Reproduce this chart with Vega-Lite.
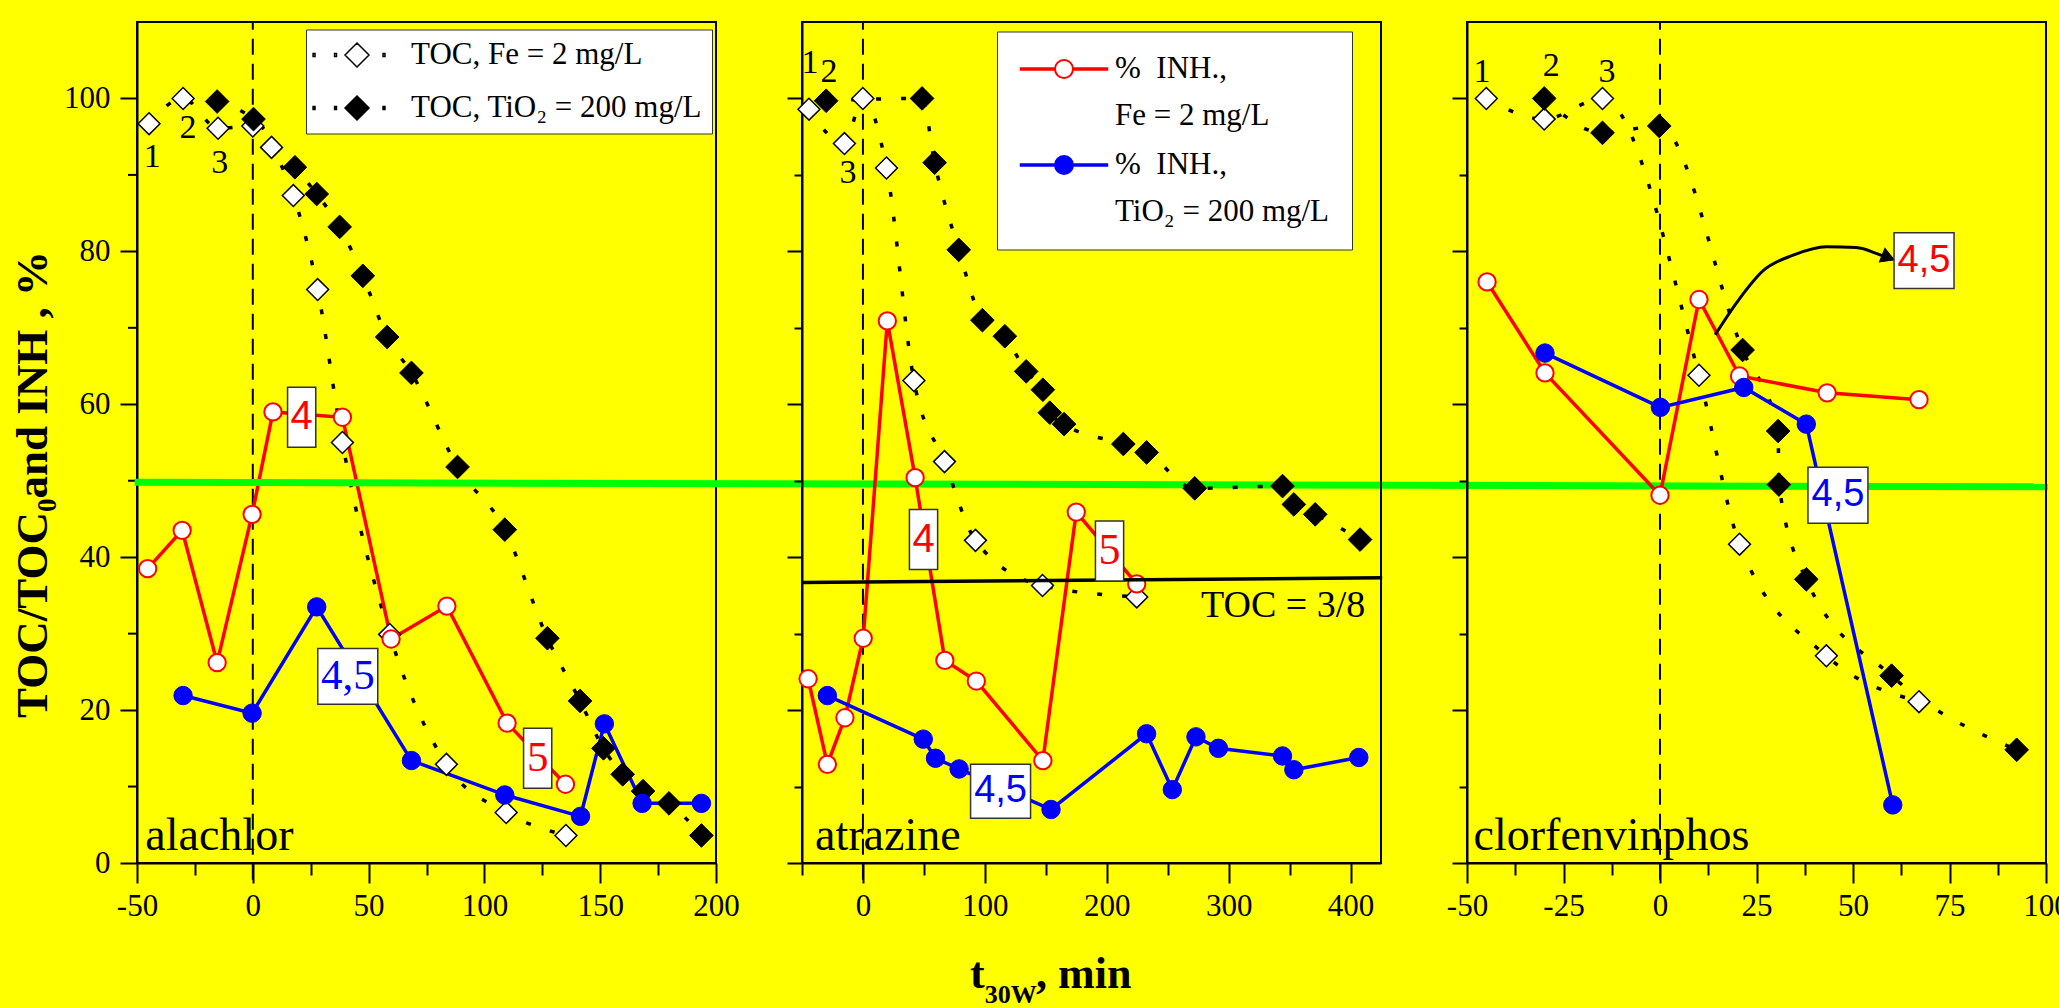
{
  "$schema": "https://vega.github.io/schema/vega-lite/v6.json",
  "background": "#ffff00",
  "padding": {"left": 9, "top": 20, "right": 0, "bottom": 0},
  "bounds": "flush",
  "spacing": 86,
  "config": {
    "view": {"stroke": "#000000", "strokeWidth": 2},
    "axis": {"domainColor": "#000000", "domainWidth": 2, "tickColor": "#000000", "tickWidth": 2, "labelColor": "#000000", "labelFont": "Liberation Sans Narrow", "labelFontSize": 31, "grid": false, "labelFlush": false, "labelOverlap": false, "labelBound": false, "titleColor": "#000000"},
    "legend": {"labelFont": "Liberation Serif", "labelFontSize": 31, "labelColor": "#000000", "labelLimit": 600},
    "style": {"guide-label": {"lineHeight": 47}}
  },
  "resolve": {"scale": {"x": "independent", "y": "independent", "fill": "independent", "stroke": "independent"}, "legend": {"fill": "independent", "stroke": "independent"}, "axis": {"x": "independent", "y": "independent"}},
  "datasets": {
    "pts": [
      {"panel":"alachlor","series":"TOC Fe","t":-44.8,"v":96.7},{"panel":"alachlor","series":"TOC Fe","t":-30.1,"v":100},{"panel":"alachlor","series":"TOC Fe","t":-15,"v":96.1},{"panel":"alachlor","series":"TOC Fe","t":0,"v":96.4},{"panel":"alachlor","series":"TOC Fe","t":8.1,"v":93.6},{"panel":"alachlor","series":"TOC Fe","t":17.5,"v":87.3},{"panel":"alachlor","series":"TOC Fe","t":28,"v":75.0},{"panel":"alachlor","series":"TOC Fe","t":38.7,"v":55.0},{"panel":"alachlor","series":"TOC Fe","t":59.1,"v":29.9},{"panel":"alachlor","series":"TOC Fe","t":83.6,"v":12.9},{"panel":"alachlor","series":"TOC Fe","t":109.4,"v":6.6},{"panel":"alachlor","series":"TOC Fe","t":135.2,"v":3.6},
      {"panel":"alachlor","series":"TOC TiO2","t":-15.4,"v":99.6},{"panel":"alachlor","series":"TOC TiO2","t":0.3,"v":97.3},{"panel":"alachlor","series":"TOC TiO2","t":18.2,"v":91.0},{"panel":"alachlor","series":"TOC TiO2","t":27.6,"v":87.5},{"panel":"alachlor","series":"TOC TiO2","t":37.5,"v":83.2},{"panel":"alachlor","series":"TOC TiO2","t":47.5,"v":76.8},{"panel":"alachlor","series":"TOC TiO2","t":58,"v":68.8},{"panel":"alachlor","series":"TOC TiO2","t":68.5,"v":64.1},{"panel":"alachlor","series":"TOC TiO2","t":88.4,"v":51.8},{"panel":"alachlor","series":"TOC TiO2","t":108.8,"v":43.6},{"panel":"alachlor","series":"TOC TiO2","t":127.2,"v":29.4},{"panel":"alachlor","series":"TOC TiO2","t":141.3,"v":21.2},{"panel":"alachlor","series":"TOC TiO2","t":151.4,"v":15.0},{"panel":"alachlor","series":"TOC TiO2","t":159.7,"v":11.6},{"panel":"alachlor","series":"TOC TiO2","t":168.5,"v":9.4},{"panel":"alachlor","series":"TOC TiO2","t":179.7,"v":7.8},{"panel":"alachlor","series":"TOC TiO2","t":193.7,"v":3.6},
      {"panel":"alachlor","series":"INH Fe","t":-45.4,"v":38.5},{"panel":"alachlor","series":"INH Fe","t":-30.5,"v":43.5},{"panel":"alachlor","series":"INH Fe","t":-15.4,"v":26.2},{"panel":"alachlor","series":"INH Fe","t":-0.3,"v":45.6},{"panel":"alachlor","series":"INH Fe","t":8.7,"v":59.0},{"panel":"alachlor","series":"INH Fe","t":38.7,"v":58.3},{"panel":"alachlor","series":"INH Fe","t":59.7,"v":29.3},{"panel":"alachlor","series":"INH Fe","t":83.8,"v":33.6},{"panel":"alachlor","series":"INH Fe","t":109.8,"v":18.3},{"panel":"alachlor","series":"INH Fe","t":135,"v":10.3},
      {"panel":"alachlor","series":"INH TiO2","t":-30.1,"v":21.9},{"panel":"alachlor","series":"INH TiO2","t":-0.3,"v":19.6},{"panel":"alachlor","series":"INH TiO2","t":27.6,"v":33.5},{"panel":"alachlor","series":"INH TiO2","t":68.5,"v":13.4},{"panel":"alachlor","series":"INH TiO2","t":108.8,"v":8.9},{"panel":"alachlor","series":"INH TiO2","t":141.5,"v":6.1},{"panel":"alachlor","series":"INH TiO2","t":151.8,"v":18.2},{"panel":"alachlor","series":"INH TiO2","t":168.1,"v":7.8},{"panel":"alachlor","series":"INH TiO2","t":193.7,"v":7.8},
      {"panel":"atrazine","series":"TOC Fe","t":-44.3,"v":98.6},{"panel":"atrazine","series":"TOC Fe","t":-15.2,"v":94.1},{"panel":"atrazine","series":"TOC Fe","t":-0.1,"v":100},{"panel":"atrazine","series":"TOC Fe","t":19.3,"v":90.9},{"panel":"atrazine","series":"TOC Fe","t":41.8,"v":63.1},{"panel":"atrazine","series":"TOC Fe","t":66.9,"v":52.5},{"panel":"atrazine","series":"TOC Fe","t":92.3,"v":42.2},{"panel":"atrazine","series":"TOC Fe","t":147.3,"v":36.3},{"panel":"atrazine","series":"TOC Fe","t":224.6,"v":34.8},
      {"panel":"atrazine","series":"TOC TiO2","t":-30.2,"v":99.7},{"panel":"atrazine","series":"TOC TiO2","t":48.5,"v":100},{"panel":"atrazine","series":"TOC TiO2","t":58.8,"v":91.6},{"panel":"atrazine","series":"TOC TiO2","t":78.6,"v":80.2},{"panel":"atrazine","series":"TOC TiO2","t":98,"v":71.0},{"panel":"atrazine","series":"TOC TiO2","t":116.4,"v":68.9},{"panel":"atrazine","series":"TOC TiO2","t":133.9,"v":64.3},{"panel":"atrazine","series":"TOC TiO2","t":147.6,"v":61.9},{"panel":"atrazine","series":"TOC TiO2","t":153.3,"v":58.9},{"panel":"atrazine","series":"TOC TiO2","t":165,"v":57.4},{"panel":"atrazine","series":"TOC TiO2","t":213.6,"v":54.8},{"panel":"atrazine","series":"TOC TiO2","t":232.7,"v":53.7},{"panel":"atrazine","series":"TOC TiO2","t":272.2,"v":49.0},{"panel":"atrazine","series":"TOC TiO2","t":344.2,"v":49.3},{"panel":"atrazine","series":"TOC TiO2","t":353.5,"v":46.9},{"panel":"atrazine","series":"TOC TiO2","t":371,"v":45.6},{"panel":"atrazine","series":"TOC TiO2","t":407.8,"v":42.3},
      {"panel":"atrazine","series":"INH Fe","t":-45,"v":24.1},{"panel":"atrazine","series":"INH Fe","t":-29.2,"v":12.9},{"panel":"atrazine","series":"INH Fe","t":-14.8,"v":19.0},{"panel":"atrazine","series":"INH Fe","t":0.2,"v":29.4},{"panel":"atrazine","series":"INH Fe","t":20,"v":70.9},{"panel":"atrazine","series":"INH Fe","t":42.8,"v":50.4},{"panel":"atrazine","series":"INH Fe","t":67.2,"v":26.5},{"panel":"atrazine","series":"INH Fe","t":93,"v":23.8},{"panel":"atrazine","series":"INH Fe","t":147.6,"v":13.4},{"panel":"atrazine","series":"INH Fe","t":175,"v":45.9},{"panel":"atrazine","series":"INH Fe","t":224.6,"v":36.5},
      {"panel":"atrazine","series":"INH TiO2","t":-29.2,"v":21.9},{"panel":"atrazine","series":"INH TiO2","t":49.5,"v":16.2},{"panel":"atrazine","series":"INH TiO2","t":59.5,"v":13.7},{"panel":"atrazine","series":"INH TiO2","t":78.9,"v":12.3},{"panel":"atrazine","series":"INH TiO2","t":154.3,"v":7.0},{"panel":"atrazine","series":"INH TiO2","t":232.7,"v":16.9},{"panel":"atrazine","series":"INH TiO2","t":253.8,"v":9.6},{"panel":"atrazine","series":"INH TiO2","t":273.2,"v":16.5},{"panel":"atrazine","series":"INH TiO2","t":291.6,"v":15.0},{"panel":"atrazine","series":"INH TiO2","t":344.2,"v":14.0},{"panel":"atrazine","series":"INH TiO2","t":353.5,"v":12.2},{"panel":"atrazine","series":"INH TiO2","t":406.8,"v":13.8},
      {"panel":"clorfenvinphos","series":"TOC Fe","t":-45,"v":100},{"panel":"clorfenvinphos","series":"TOC Fe","t":-30,"v":97.3},{"panel":"clorfenvinphos","series":"TOC Fe","t":-14.9,"v":100},{"panel":"clorfenvinphos","series":"TOC Fe","t":10.1,"v":63.8},{"panel":"clorfenvinphos","series":"TOC Fe","t":20.6,"v":41.7},{"panel":"clorfenvinphos","series":"TOC Fe","t":43.1,"v":27.1},{"panel":"clorfenvinphos","series":"TOC Fe","t":67.1,"v":21.1},
      {"panel":"clorfenvinphos","series":"TOC TiO2","t":-30,"v":100},{"panel":"clorfenvinphos","series":"TOC TiO2","t":-14.9,"v":95.5},{"panel":"clorfenvinphos","series":"TOC TiO2","t":-0.2,"v":96.4},{"panel":"clorfenvinphos","series":"TOC TiO2","t":21.4,"v":67.1},{"panel":"clorfenvinphos","series":"TOC TiO2","t":30.6,"v":56.5},{"panel":"clorfenvinphos","series":"TOC TiO2","t":30.8,"v":49.5},{"panel":"clorfenvinphos","series":"TOC TiO2","t":37.9,"v":37.1},{"panel":"clorfenvinphos","series":"TOC TiO2","t":60,"v":24.5},{"panel":"clorfenvinphos","series":"TOC TiO2","t":92.4,"v":14.8},
      {"panel":"clorfenvinphos","series":"INH Fe","t":-44.8,"v":76.0},{"panel":"clorfenvinphos","series":"INH Fe","t":-29.8,"v":64.1},{"panel":"clorfenvinphos","series":"INH Fe","t":0,"v":48.1},{"panel":"clorfenvinphos","series":"INH Fe","t":10.1,"v":73.7},{"panel":"clorfenvinphos","series":"INH Fe","t":20.6,"v":63.7},{"panel":"clorfenvinphos","series":"INH Fe","t":43.3,"v":61.5},{"panel":"clorfenvinphos","series":"INH Fe","t":67.1,"v":60.6},
      {"panel":"clorfenvinphos","series":"INH TiO2","t":-29.8,"v":66.7},{"panel":"clorfenvinphos","series":"INH TiO2","t":0.1,"v":59.6},{"panel":"clorfenvinphos","series":"INH TiO2","t":21.7,"v":62.2},{"panel":"clorfenvinphos","series":"INH TiO2","t":37.9,"v":57.4},{"panel":"clorfenvinphos","series":"INH TiO2","t":60.3,"v":7.6}
    ],
    "ann": [
      {"panel":"alachlor","kind":"num","text":"1","t":-43.4,"v":92.3},{"panel":"alachlor","kind":"num","text":"2","t":-28,"v":96.1},{"panel":"alachlor","kind":"num","text":"3","t":-14.3,"v":91.5},
      {"panel":"atrazine","kind":"num","text":"1","t":-43.4,"v":104.6},{"panel":"atrazine","kind":"num","text":"2","t":-27.9,"v":103.4},{"panel":"atrazine","kind":"num","text":"3","t":-12.3,"v":90.3},
      {"panel":"clorfenvinphos","kind":"num","text":"1","t":-46.1,"v":103.4},{"panel":"clorfenvinphos","kind":"num","text":"2","t":-28.2,"v":104.3},{"panel":"clorfenvinphos","kind":"num","text":"3","t":-13.7,"v":103.4},
      {"panel":"alachlor","kind":"box","text":"4","series":"INH Fe","t":21.1,"v":58.3},{"panel":"alachlor","kind":"box","text":"4,5","series":"INH TiO2","t":41,"v":24.4},{"panel":"alachlor","kind":"box","text":"5","series":"INH Fe","t":123,"v":13.7},
      {"panel":"atrazine","kind":"box","text":"4","series":"INH Fe","t":49.7,"v":42.3},{"panel":"atrazine","kind":"box","text":"5","series":"INH Fe","t":202.3,"v":40.8},{"panel":"atrazine","kind":"box","text":"4,5","series":"INH TiO2","t":112.9,"v":9.4},
      {"panel":"clorfenvinphos","kind":"box","text":"4,5","series":"INH Fe","t":68.4,"v":78.8},{"panel":"clorfenvinphos","kind":"box","text":"4,5","series":"INH TiO2","t":46.1,"v":48.1},
      {"panel":"alachlor","kind":"name","text":"alachlor","t":-46.4,"v":1.7},{"panel":"atrazine","kind":"name","text":"atrazine","t":-39.3,"v":1.7},{"panel":"clorfenvinphos","kind":"name","text":"clorfenvinphos","t":-48.3,"v":1.7},
      {"panel":"atrazine","kind":"note","text":"TOC = 3/8","t":277.3,"v":32.2},
      {"panel":"atrazine","kind":"xt","text":"t","t":87.8,"v":-16.4},{"panel":"atrazine","kind":"xsub","text":"30W","t":99.9,"v":-18.3},{"panel":"atrazine","kind":"xt","text":", min","t":142,"v":-16.4},
      {"panel":"clorfenvinphos","kind":"head","text":"","t":59.1,"v":79.2}
    ],
    "refl": [
      {"panel":"alachlor","kind":"zero","t":0,"v":-2.2,"t2":0,"v2":110},{"panel":"atrazine","kind":"zero","t":0,"v":-2.2,"t2":0,"v2":110},{"panel":"clorfenvinphos","kind":"zero","t":0,"v":-2.2,"t2":0,"v2":110},
      {"panel":"alachlor","kind":"green","t":-51,"v":49.8,"t2":775,"v2":49.2},
      {"panel":"atrazine","kind":"black","t":-50,"v":36.7,"t2":426,"v2":37.3}
    ],
    "minor": [
      {"t":-50,"v":10},{"t":-50,"v":30},{"t":-50,"v":50},{"t":-50,"v":70},{"t":-50,"v":90}
    ],
    "arrow": [
      {"t":14.3,"v":69.1},{"t":20.3,"v":73.6},{"t":26.8,"v":77.5},{"t":34.5,"v":79.5},{"t":43.1,"v":80.6},{"t":50.8,"v":80.5},{"t":56.2,"v":79.7},{"t":59.5,"v":79.0}
    ]
  },
  "hconcat": [
    {
      "width": 579, "height": 841,
      "encoding": {
        "x": {"field": "t", "type": "quantitative", "scale": {"domain": [-50, 200], "nice": false, "zero": false},
          "axis": {"values": [-50,-25,0,25,50,75,100,125,150,175,200], "labelExpr": "datum.value % 50 == 0 ? '' + datum.value : ''", "tickSize": {"condition": {"test": "datum.value % 50 == 0", "value": 20}, "value": 12}, "labelPadding": 8, "title": null}},
        "y": {"field": "v", "type": "quantitative", "scale": {"domain": [0, 110], "nice": false, "zero": false},
          "axis": {"values": [0,20,40,60,80,100], "labelExpr": "'' + datum.value", "tickSize": 17, "labelPadding": 10,
            "title": "TOC/TOC\u2080and INH , %", "titleFont": "Liberation Serif", "titleFontSize": 45, "titleFontWeight": "bold", "titleAngle": 270, "titleX": -91, "titleY": 462, "titleAlign": "center", "titleBaseline": "alphabetic"}}
      },
      "layer": [
        {"data": {"name": "minor"}, "mark": {"type": "tick", "orient": "horizontal", "size": 9, "thickness": 2, "color": "#000000", "xOffset": -4.5, "opacity": 1}},
        {"data": {"name": "refl"}, "transform": [{"filter": "datum.panel == 'alachlor' && datum.kind == 'zero'"}], "mark": {"type": "rule", "color": "#000000", "strokeWidth": 2, "strokeDash": [16, 9]}, "encoding": {"x2": {"field": "t2"}, "y2": {"field": "v2"}}},
        {"data": {"name": "pts"}, "transform": [{"filter": "datum.panel == 'alachlor' && datum.series == 'TOC Fe'"}], "mark": {"type": "line", "color": "#000000", "strokeWidth": 3.5, "strokeDash": [5, 20], "interpolate": "monotone"}, "encoding": {}},
        {"data": {"name": "pts"}, "transform": [{"filter": "datum.panel == 'alachlor' && datum.series == 'TOC TiO2'"}], "mark": {"type": "line", "color": "#000000", "strokeWidth": 3.5, "strokeDash": [5, 20], "interpolate": "monotone"}, "encoding": {}},
        {"data": {"name": "pts"}, "transform": [{"filter": "datum.panel == 'alachlor' && datum.series == 'INH Fe'"}], "mark": {"type": "line", "color": "#ff0000", "strokeWidth": 3.5}, "encoding": {}},
        {"data": {"name": "pts"}, "transform": [{"filter": "datum.panel == 'alachlor' && datum.series == 'INH TiO2'"}], "mark": {"type": "line", "color": "#0000ff", "strokeWidth": 3.5}, "encoding": {}},
        {"data": {"name": "pts"}, "transform": [{"filter": "datum.panel == 'alachlor' && datum.series == 'TOC Fe'"}], "mark": {"type": "point", "shape": "diamond", "filled": true, "stroke": "#000000", "strokeWidth": 1.5, "size": 480, "opacity": 1},
          "encoding": {"fill": {"field": "series", "type": "nominal", "scale": {"domain": ["TOC Fe", "TOC TiO2"], "range": ["#ffffff", "#000000"]},
            "legend": {"title": null, "orient": "none", "legendX": 169, "legendY": 7.5, "direction": "vertical", "padding": 10, "fillColor": "#ffffff", "strokeColor": "#333333", "symbolType": "M0,-1L1,0L0,1L-1,0Z M-3.66,-0.12h0.16v0.24h-0.16Z M-1.87,-0.12h0.16v0.24h-0.16Z M2.17,-0.12h0.16v0.24h-0.16Z", "symbolSize": 576, "symbolStrokeColor": "#000000", "symbolStrokeWidth": 1.5, "symbolOffset": 25.5, "labelOffset": 38.5, "rowPadding": 21, "labelBaseline": "middle",
              "labelExpr": "datum.value == 'TOC Fe' ? 'TOC, Fe = 2 mg/L' : 'TOC, TiO\u2082 = 200 mg/L'"}}}},
        {"data": {"name": "pts"}, "transform": [{"filter": "datum.panel == 'alachlor' && datum.series == 'TOC TiO2'"}], "mark": {"type": "point", "shape": "diamond", "filled": true, "stroke": "#000000", "strokeWidth": 1, "size": 560, "opacity": 1},
          "encoding": {"fill": {"field": "series", "type": "nominal", "scale": {"domain": ["TOC Fe", "TOC TiO2"], "range": ["#ffffff", "#000000"]},
            "legend": {"title": null, "orient": "none", "legendX": 169, "legendY": 7.5, "direction": "vertical", "padding": 10, "fillColor": "#ffffff", "strokeColor": "#333333", "symbolType": "M0,-1L1,0L0,1L-1,0Z M-3.66,-0.12h0.16v0.24h-0.16Z M-1.87,-0.12h0.16v0.24h-0.16Z M2.17,-0.12h0.16v0.24h-0.16Z", "symbolSize": 576, "symbolStrokeColor": "#000000", "symbolStrokeWidth": 1.5, "symbolOffset": 25.5, "labelOffset": 38.5, "rowPadding": 21, "labelBaseline": "middle",
              "labelExpr": "datum.value == 'TOC Fe' ? 'TOC, Fe = 2 mg/L' : 'TOC, TiO\u2082 = 200 mg/L'"}}}},
        {"data": {"name": "pts"}, "transform": [{"filter": "datum.panel == 'alachlor' && datum.series == 'INH Fe'"}], "mark": {"type": "point", "shape": "circle", "filled": true, "fill": "#ffffff", "stroke": "#ff0000", "strokeWidth": 2, "size": 300, "opacity": 1}},
        {"data": {"name": "pts"}, "transform": [{"filter": "datum.panel == 'alachlor' && datum.series == 'INH TiO2'"}], "mark": {"type": "point", "shape": "circle", "filled": true, "fill": "#0000ff", "stroke": "#0000ff", "strokeWidth": 1, "size": 340, "opacity": 1}},
        {"data": {"name": "refl"}, "transform": [{"filter": "datum.panel == 'alachlor' && datum.kind == 'green'"}], "mark": {"type": "rule", "color": "#00ff00", "strokeWidth": 7}, "encoding": {"x2": {"field": "t2"}, "y2": {"field": "v2"}}},
        {"data": {"name": "ann"}, "transform": [{"filter": "datum.panel == 'alachlor' && datum.kind == 'box' && length(datum.text) == 1"}], "mark": {"type": "point", "shape": "M-0.47,-1H0.47V1H-0.47Z", "filled": true, "fill": "#ffffff", "stroke": "#333333", "strokeWidth": 1.5, "size": 3600, "opacity": 1}},
        {"data": {"name": "ann"}, "transform": [{"filter": "datum.panel == 'alachlor' && datum.kind == 'box' && length(datum.text) > 1"}], "mark": {"type": "point", "shape": "M-1,-0.93H1V0.93H-1Z", "filled": true, "fill": "#ffffff", "stroke": "#333333", "strokeWidth": 1.5, "size": 3600, "opacity": 1}},
        {"data": {"name": "ann"}, "transform": [{"filter": "datum.panel == 'alachlor' && datum.kind == 'box' && datum.text == '4'"}], "mark": {"type": "text", "font": "Liberation Sans", "fontSize": 40, "align": "center", "baseline": "middle"}, "encoding": {"text": {"field": "text"}, "color": {"condition": {"test": "datum.series == 'INH Fe'", "value": "#ff0000"}, "value": "#0000ff"}}},
        {"data": {"name": "ann"}, "transform": [{"filter": "datum.panel == 'alachlor' && datum.kind == 'box' && datum.text != '4'"}], "mark": {"type": "text", "font": "Liberation Serif", "fontSize": 43, "align": "center", "baseline": "middle"}, "encoding": {"text": {"field": "text"}, "color": {"condition": {"test": "datum.series == 'INH Fe'", "value": "#ff0000"}, "value": "#0000ff"}}},
        {"data": {"name": "ann"}, "transform": [{"filter": "datum.panel == 'alachlor' && datum.kind == 'num'"}], "mark": {"type": "text", "font": "Liberation Serif", "fontSize": 34, "align": "center", "baseline": "middle", "color": "#000000"}, "encoding": {"text": {"field": "text"}}},
        {"data": {"name": "ann"}, "transform": [{"filter": "datum.panel == 'alachlor' && datum.kind == 'name'"}], "mark": {"type": "text", "font": "Liberation Serif", "fontSize": 46, "align": "left", "baseline": "alphabetic", "color": "#000000"}, "encoding": {"text": {"field": "text"}}}
      ]
    },
    {
      "width": 579, "height": 841,
      "encoding": {
        "x": {"field": "t", "type": "quantitative", "scale": {"domain": [-50, 425], "nice": false, "zero": false},
          "axis": {"values": [-50,0,50,100,150,200,250,300,350,400], "labelExpr": "datum.value % 100 == 0 ? '' + datum.value : ''", "tickSize": {"condition": {"test": "datum.value % 100 == 0", "value": 20}, "value": 12}, "labelPadding": 8, "title": null}},
        "y": {"field": "v", "type": "quantitative", "scale": {"domain": [0, 110], "nice": false, "zero": false},
          "axis": {"values": [0,10,20,30,40,50,60,70,80,90,100], "labels": false, "tickSize": {"condition": {"test": "datum.value % 20 == 0", "value": 15}, "value": 8}, "title": null}}
      },
      "layer": [
        {"data": {"name": "refl"}, "transform": [{"filter": "datum.panel == 'atrazine' && datum.kind == 'zero'"}], "mark": {"type": "rule", "color": "#000000", "strokeWidth": 2, "strokeDash": [16, 9]}, "encoding": {"x2": {"field": "t2"}, "y2": {"field": "v2"}}},
        {"data": {"name": "pts"}, "transform": [{"filter": "datum.panel == 'atrazine' && datum.series == 'TOC Fe'"}], "mark": {"type": "line", "color": "#000000", "strokeWidth": 3.5, "strokeDash": [5, 20], "interpolate": "monotone"}, "encoding": {}},
        {"data": {"name": "pts"}, "transform": [{"filter": "datum.panel == 'atrazine' && datum.series == 'TOC TiO2'"}], "mark": {"type": "line", "color": "#000000", "strokeWidth": 3.5, "strokeDash": [5, 20], "interpolate": "monotone"}, "encoding": {}},
        {"data": {"name": "pts"}, "transform": [{"filter": "datum.panel == 'atrazine' && datum.series == 'INH Fe'"}], "mark": {"type": "line", "color": "#ff0000", "strokeWidth": 3.5}, "encoding": {}},
        {"data": {"name": "pts"}, "transform": [{"filter": "datum.panel == 'atrazine' && datum.series == 'INH TiO2'"}], "mark": {"type": "line", "color": "#0000ff", "strokeWidth": 3.5}, "encoding": {}},
        {"data": {"name": "pts"}, "transform": [{"filter": "datum.panel == 'atrazine' && datum.series == 'TOC Fe'"}], "mark": {"type": "point", "shape": "diamond", "filled": true, "fill": "#ffffff", "stroke": "#000000", "strokeWidth": 1.5, "size": 480, "opacity": 1}},
        {"data": {"name": "pts"}, "transform": [{"filter": "datum.panel == 'atrazine' && datum.series == 'TOC TiO2'"}], "mark": {"type": "point", "shape": "diamond", "filled": true, "fill": "#000000", "stroke": "#000000", "strokeWidth": 1, "size": 560, "opacity": 1}},
        {"data": {"name": "pts"}, "transform": [{"filter": "datum.panel == 'atrazine' && datum.series == 'INH Fe'"}], "mark": {"type": "point", "shape": "circle", "filled": true, "strokeWidth": 2, "size": 300, "opacity": 1},
          "encoding": {
            "fill": {"field": "series", "type": "nominal", "scale": {"domain": ["INH Fe", "INH TiO2"], "range": ["#ffffff", "#0000ff"]},
              "legend": {"title": null, "orient": "none", "legendX": 195, "legendY": 9.5, "direction": "vertical", "padding": 22, "fillColor": "#ffffff", "strokeColor": "#333333", "symbolType": "M1,0A1,1,0,1,1,-1,0A1,1,0,1,1,1,0Z M-4.8,-0.08H-1V0.08H-4.8Z M1,-0.08H4.8V0.08H1Z", "symbolSize": 324, "symbolStrokeWidth": 2, "symbolOffset": 29.5, "labelOffset": 35.5, "rowPadding": 17, "labelBaseline": "middle",
                "labelExpr": "datum.value == 'INH Fe' ? ['%\u00a0 INH.,', '\u00a0Fe = 2 mg/L'] : ['%\u00a0 INH.,', '\u00a0TiO\u2082 = 200 mg/L']"}},
            "stroke": {"field": "series", "type": "nominal", "scale": {"domain": ["INH Fe", "INH TiO2"], "range": ["#ff0000", "#0000ff"]},
              "legend": {"title": null, "orient": "none", "legendX": 195, "legendY": 9.5, "direction": "vertical", "padding": 22, "fillColor": "#ffffff", "strokeColor": "#333333", "symbolType": "M1,0A1,1,0,1,1,-1,0A1,1,0,1,1,1,0Z M-4.8,-0.08H-1V0.08H-4.8Z M1,-0.08H4.8V0.08H1Z", "symbolSize": 324, "symbolStrokeWidth": 2, "symbolOffset": 29.5, "labelOffset": 35.5, "rowPadding": 17, "labelBaseline": "middle",
                "labelExpr": "datum.value == 'INH Fe' ? ['%\u00a0 INH.,', '\u00a0Fe = 2 mg/L'] : ['%\u00a0 INH.,', '\u00a0TiO\u2082 = 200 mg/L']"}}}},
        {"data": {"name": "pts"}, "transform": [{"filter": "datum.panel == 'atrazine' && datum.series == 'INH TiO2'"}], "mark": {"type": "point", "shape": "circle", "filled": true, "strokeWidth": 1, "size": 340, "opacity": 1},
          "encoding": {
            "fill": {"field": "series", "type": "nominal", "scale": {"domain": ["INH Fe", "INH TiO2"], "range": ["#ffffff", "#0000ff"]},
              "legend": {"title": null, "orient": "none", "legendX": 195, "legendY": 9.5, "direction": "vertical", "padding": 22, "fillColor": "#ffffff", "strokeColor": "#333333", "symbolType": "M1,0A1,1,0,1,1,-1,0A1,1,0,1,1,1,0Z M-4.8,-0.08H-1V0.08H-4.8Z M1,-0.08H4.8V0.08H1Z", "symbolSize": 324, "symbolStrokeWidth": 2, "symbolOffset": 29.5, "labelOffset": 35.5, "rowPadding": 17, "labelBaseline": "middle",
                "labelExpr": "datum.value == 'INH Fe' ? ['%\u00a0 INH.,', '\u00a0Fe = 2 mg/L'] : ['%\u00a0 INH.,', '\u00a0TiO\u2082 = 200 mg/L']"}},
            "stroke": {"field": "series", "type": "nominal", "scale": {"domain": ["INH Fe", "INH TiO2"], "range": ["#ff0000", "#0000ff"]},
              "legend": {"title": null, "orient": "none", "legendX": 195, "legendY": 9.5, "direction": "vertical", "padding": 22, "fillColor": "#ffffff", "strokeColor": "#333333", "symbolType": "M1,0A1,1,0,1,1,-1,0A1,1,0,1,1,1,0Z M-4.8,-0.08H-1V0.08H-4.8Z M1,-0.08H4.8V0.08H1Z", "symbolSize": 324, "symbolStrokeWidth": 2, "symbolOffset": 29.5, "labelOffset": 35.5, "rowPadding": 17, "labelBaseline": "middle",
                "labelExpr": "datum.value == 'INH Fe' ? ['%\u00a0 INH.,', '\u00a0Fe = 2 mg/L'] : ['%\u00a0 INH.,', '\u00a0TiO\u2082 = 200 mg/L']"}}}},
        {"data": {"name": "refl"}, "transform": [{"filter": "datum.panel == 'atrazine' && datum.kind == 'black'"}], "mark": {"type": "rule", "color": "#000000", "strokeWidth": 3.5}, "encoding": {"x2": {"field": "t2"}, "y2": {"field": "v2"}}},
        {"data": {"name": "ann"}, "transform": [{"filter": "datum.panel == 'atrazine' && datum.kind == 'box' && length(datum.text) == 1"}], "mark": {"type": "point", "shape": "M-0.47,-1H0.47V1H-0.47Z", "filled": true, "fill": "#ffffff", "stroke": "#333333", "strokeWidth": 1.5, "size": 3600, "opacity": 1}},
        {"data": {"name": "ann"}, "transform": [{"filter": "datum.panel == 'atrazine' && datum.kind == 'box' && length(datum.text) > 1"}], "mark": {"type": "point", "shape": "M-1,-0.9H1V0.9H-1Z", "filled": true, "fill": "#ffffff", "stroke": "#333333", "strokeWidth": 1.5, "size": 3600, "opacity": 1}},
        {"data": {"name": "ann"}, "transform": [{"filter": "datum.panel == 'atrazine' && datum.kind == 'box' && datum.text != '5'"}], "mark": {"type": "text", "font": "Liberation Sans", "align": "center", "baseline": "middle"}, "encoding": {"text": {"field": "text"}, "size": {"condition": {"test": "datum.text == '4,5'", "value": 38}, "value": 40}, "color": {"condition": {"test": "datum.series == 'INH Fe'", "value": "#ff0000"}, "value": "#0000ff"}}},
        {"data": {"name": "ann"}, "transform": [{"filter": "datum.panel == 'atrazine' && datum.kind == 'box' && datum.text == '5'"}], "mark": {"type": "text", "font": "Liberation Serif", "fontSize": 44, "align": "center", "baseline": "middle"}, "encoding": {"text": {"field": "text"}, "color": {"condition": {"test": "datum.series == 'INH Fe'", "value": "#ff0000"}, "value": "#0000ff"}}},
        {"data": {"name": "ann"}, "transform": [{"filter": "datum.panel == 'atrazine' && datum.kind == 'num'"}], "mark": {"type": "text", "font": "Liberation Serif", "fontSize": 34, "align": "center", "baseline": "middle", "color": "#000000"}, "encoding": {"text": {"field": "text"}}},
        {"data": {"name": "ann"}, "transform": [{"filter": "datum.panel == 'atrazine' && datum.kind == 'name'"}], "mark": {"type": "text", "font": "Liberation Serif", "fontSize": 46, "align": "left", "baseline": "alphabetic", "color": "#000000"}, "encoding": {"text": {"field": "text"}}},
        {"data": {"name": "ann"}, "transform": [{"filter": "datum.panel == 'atrazine' && datum.kind == 'note'"}], "mark": {"type": "text", "font": "Liberation Serif", "fontSize": 38, "align": "left", "baseline": "alphabetic", "color": "#000000"}, "encoding": {"text": {"field": "text"}}},
        {"data": {"name": "ann"}, "transform": [{"filter": "datum.panel == 'atrazine' && datum.kind == 'xt'"}], "mark": {"type": "text", "font": "Liberation Serif", "fontSize": 44, "fontWeight": "bold", "align": "left", "baseline": "alphabetic", "color": "#000000"}, "encoding": {"text": {"field": "text"}}},
        {"data": {"name": "ann"}, "transform": [{"filter": "datum.panel == 'atrazine' && datum.kind == 'xsub'"}], "mark": {"type": "text", "font": "Liberation Serif", "fontSize": 26, "fontWeight": "bold", "align": "left", "baseline": "alphabetic", "color": "#000000"}, "encoding": {"text": {"field": "text"}}}
      ]
    },
    {
      "width": 579, "height": 841,
      "encoding": {
        "x": {"field": "t", "type": "quantitative", "scale": {"domain": [-50, 100], "nice": false, "zero": false},
          "axis": {"values": [-50,-37.5,-25,-12.5,0,12.5,25,37.5,50,62.5,75,87.5,100], "labelExpr": "datum.value % 25 == 0 ? '' + datum.value : ''", "tickSize": {"condition": {"test": "datum.value % 25 == 0", "value": 20}, "value": 12}, "labelPadding": 8, "title": null}},
        "y": {"field": "v", "type": "quantitative", "scale": {"domain": [0, 110], "nice": false, "zero": false},
          "axis": {"values": [0,10,20,30,40,50,60,70,80,90,100], "labels": false, "tickSize": {"condition": {"test": "datum.value % 20 == 0", "value": 15}, "value": 8}, "title": null}}
      },
      "layer": [
        {"data": {"name": "refl"}, "transform": [{"filter": "datum.panel == 'clorfenvinphos' && datum.kind == 'zero'"}], "mark": {"type": "rule", "color": "#000000", "strokeWidth": 2, "strokeDash": [16, 9]}, "encoding": {"x2": {"field": "t2"}, "y2": {"field": "v2"}}},
        {"data": {"name": "pts"}, "transform": [{"filter": "datum.panel == 'clorfenvinphos' && datum.series == 'TOC Fe'"}], "mark": {"type": "line", "color": "#000000", "strokeWidth": 3.5, "strokeDash": [5, 20], "interpolate": "monotone"}, "encoding": {}},
        {"data": {"name": "pts"}, "transform": [{"filter": "datum.panel == 'clorfenvinphos' && datum.series == 'TOC TiO2'"}], "mark": {"type": "line", "color": "#000000", "strokeWidth": 3.5, "strokeDash": [5, 20], "interpolate": "monotone"}, "encoding": {}},
        {"data": {"name": "pts"}, "transform": [{"filter": "datum.panel == 'clorfenvinphos' && datum.series == 'INH Fe'"}], "mark": {"type": "line", "color": "#ff0000", "strokeWidth": 3.5}, "encoding": {}},
        {"data": {"name": "pts"}, "transform": [{"filter": "datum.panel == 'clorfenvinphos' && datum.series == 'INH TiO2'"}], "mark": {"type": "line", "color": "#0000ff", "strokeWidth": 3.5}, "encoding": {}},
        {"data": {"name": "pts"}, "transform": [{"filter": "datum.panel == 'clorfenvinphos' && datum.series == 'TOC Fe'"}], "mark": {"type": "point", "shape": "diamond", "filled": true, "fill": "#ffffff", "stroke": "#000000", "strokeWidth": 1.5, "size": 480, "opacity": 1}},
        {"data": {"name": "pts"}, "transform": [{"filter": "datum.panel == 'clorfenvinphos' && datum.series == 'TOC TiO2'"}], "mark": {"type": "point", "shape": "diamond", "filled": true, "fill": "#000000", "stroke": "#000000", "strokeWidth": 1, "size": 560, "opacity": 1}},
        {"data": {"name": "pts"}, "transform": [{"filter": "datum.panel == 'clorfenvinphos' && datum.series == 'INH Fe'"}], "mark": {"type": "point", "shape": "circle", "filled": true, "fill": "#ffffff", "stroke": "#ff0000", "strokeWidth": 2, "size": 300, "opacity": 1}},
        {"data": {"name": "pts"}, "transform": [{"filter": "datum.panel == 'clorfenvinphos' && datum.series == 'INH TiO2'"}], "mark": {"type": "point", "shape": "circle", "filled": true, "fill": "#0000ff", "stroke": "#0000ff", "strokeWidth": 1, "size": 340, "opacity": 1}},
        {"data": {"name": "arrow"}, "mark": {"type": "line", "color": "#000000", "strokeWidth": 3, "interpolate": "monotone"}, "encoding": {}},
        {"data": {"name": "ann"}, "transform": [{"filter": "datum.panel == 'clorfenvinphos' && datum.kind == 'head'"}], "mark": {"type": "point", "shape": "triangle-right", "angle": 22, "filled": true, "fill": "#000000", "stroke": "#000000", "strokeWidth": 1, "size": 220, "opacity": 1}},
        {"data": {"name": "ann"}, "transform": [{"filter": "datum.panel == 'clorfenvinphos' && datum.kind == 'box'"}], "mark": {"type": "point", "shape": "M-1,-0.93H1V0.93H-1Z", "filled": true, "fill": "#ffffff", "stroke": "#333333", "strokeWidth": 1.5, "size": 3600, "opacity": 1}},
        {"data": {"name": "ann"}, "transform": [{"filter": "datum.panel == 'clorfenvinphos' && datum.kind == 'box'"}], "mark": {"type": "text", "font": "Liberation Sans", "fontSize": 38, "align": "center", "baseline": "middle"}, "encoding": {"text": {"field": "text"}, "color": {"condition": {"test": "datum.series == 'INH Fe'", "value": "#ff0000"}, "value": "#0000ff"}}},
        {"data": {"name": "ann"}, "transform": [{"filter": "datum.panel == 'clorfenvinphos' && datum.kind == 'num'"}], "mark": {"type": "text", "font": "Liberation Serif", "fontSize": 34, "align": "center", "baseline": "middle", "color": "#000000"}, "encoding": {"text": {"field": "text"}}},
        {"data": {"name": "ann"}, "transform": [{"filter": "datum.panel == 'clorfenvinphos' && datum.kind == 'name'"}], "mark": {"type": "text", "font": "Liberation Serif", "fontSize": 46, "align": "left", "baseline": "alphabetic", "color": "#000000"}, "encoding": {"text": {"field": "text"}}}
      ]
    }
  ]
}
